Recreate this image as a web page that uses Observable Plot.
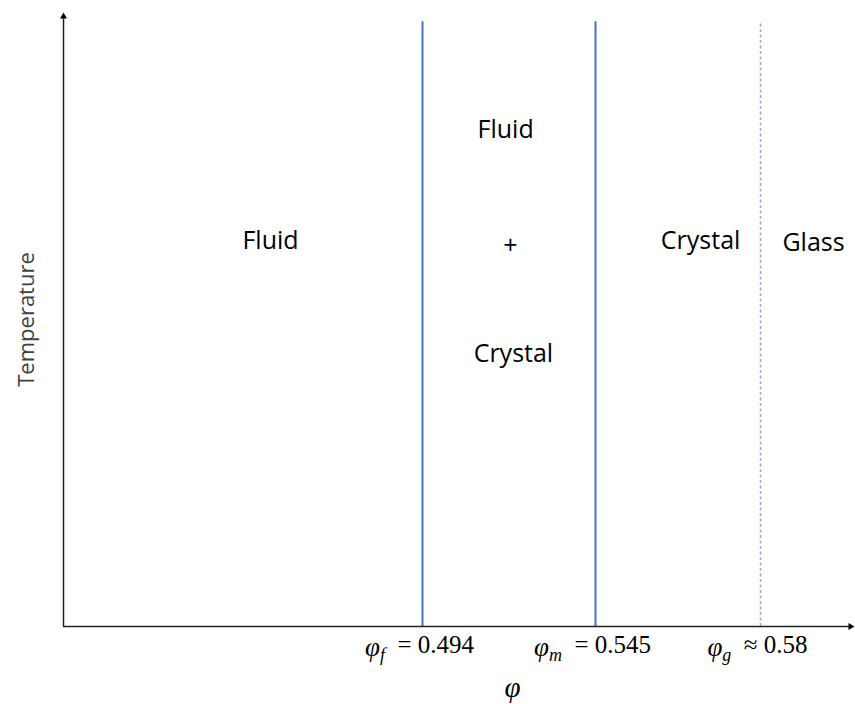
<!DOCTYPE html>
<html><head><meta charset="utf-8">
<script src="https://cdn.jsdelivr.net/npm/d3@7"></script>
<script src="https://cdn.jsdelivr.net/npm/@observablehq/plot@0.6"></script>
<style>body{margin:0;background:#fff}</style>
</head><body><div id="chart"></div>
<script>
// Schematic phase diagram of hard spheres: packing fraction φ vs temperature
const phiStops = [0.40, 0.494, 0.545, 0.58, 0.61];      // piecewise (schematic) φ axis
const boundaryPhi = [0.494, 0.545, 0.58];
const boundaryKind = ["solid", "solid", "dashed"];
const tickSub = ["f", "m", "g"];
const tickRel = ["=", "=", "≈"];
const tickVal = ["0.494", "0.545", "0.58"];
const regionText = ["Fluid", "Fluid", "+", "Crystal", "Crystal", "Glass"];
const regionPhi = [0.4542, 0.5185, 0.5199, 0.5208, 0.5673, 0.5973];
const regionTemp = [0.628, 0.808, 0.619, 0.443, 0.628, 0.625];
const tempTop = 0.985;   // top of the phase boundaries
const axisLabelPhi = 0.5205;

const boundaries = boundaryPhi.map((x, i) => ({x, kind: boundaryKind[i]}));
const regions = regionText.map((t, i) => ({t, x: regionPhi[i], y: regionTemp[i]}));
const ticks = boundaryPhi.map((x, i) => ({x, sub: tickSub[i], rel: tickRel[i], val: tickVal[i]}));
const xMin = phiStops[0], xMax = phiStops[phiStops.length - 1];

const textFont = "'Open Sans', sans-serif";
const mathFont = "'Liberation Serif', 'DejaVu Serif', serif";

const chart = Plot.plot({
  width: 855,
  height: 704,
  style: {background: "#fff", overflow: "visible"},
  x: {type: "linear", domain: phiStops, range: [63, 422, 595, 760, 852], axis: null},
  y: {type: "linear", domain: [0, 1], range: [626, 12], axis: null},
  marks: [
    Plot.ruleX(boundaries.filter(d => d.kind === "solid"), {x: "x", y1: 0, y2: tempTop, stroke: "#4472c4", strokeWidth: 2}),
    Plot.ruleX(boundaries.filter(d => d.kind === "dashed"), {x: "x", y1: 0, y2: tempTop, stroke: "#8faadc", strokeWidth: 1.5, strokeDasharray: "3,2.5"}),
    // axes with arrowheads
    Plot.ruleX([xMin], {y1: 0, y2: 0.99, stroke: "#222", strokeWidth: 1.5}),
    Plot.ruleY([0], {x1: xMin, x2: xMax, stroke: "#222", strokeWidth: 1.5}),
    Plot.dot([{x: xMin, y: 1}], {x: "x", y: "y", symbol: "triangle2", r: 3.3, fill: "#000", dy: 4}),
    Plot.dot([{x: xMax, y: 0}], {x: "x", y: "y", symbol: "triangle2", r: 3.3, fill: "#000", rotate: 90, dx: -2}),
    // region labels
    Plot.text(regions, {x: "x", y: "y", text: "t", fontSize: 25, fill: "#000", fontFamily: textFont}),
    // φ tick labels (rebuilt with subscripts below)
    Plot.text(ticks, {x: "x", y: () => 0, text: d => `φ${d.sub} ${d.rel} ${d.val}`, dy: 21, dx: -3, fontSize: 25, fill: "#000", fontFamily: mathFont, ariaLabel: () => "phi tick"}),
    // axis titles
    Plot.text(["φ"], {x: () => axisLabelPhi, y: () => 0, text: d => d, dy: 61, fontSize: 29, fontStyle: "italic", fill: "#000", fontFamily: mathFont}),
    Plot.text(["Temperature"], {x: () => xMin, y: () => 0.5, text: d => d, rotate: -90, dx: -37, fontSize: 22, fill: "#404040", fontFamily: textFont})
  ]
});

d3.select(chart).selectAll('text[aria-label="phi tick"]').each(function(_, j) {
  const d = ticks[j];
  const t = d3.select(this);
  t.text(null);
  t.append("tspan").attr("font-style", "italic").attr("font-size", 27).text("φ");
  t.append("tspan").attr("font-style", "italic").attr("font-size", 18).attr("dy", "0.3em").text(d.sub);
  t.append("tspan").attr("dy", "-0.3em").text(`\u2002${d.rel} ${d.val}`);
});

document.getElementById("chart").append(chart);
</script>
</body></html>
